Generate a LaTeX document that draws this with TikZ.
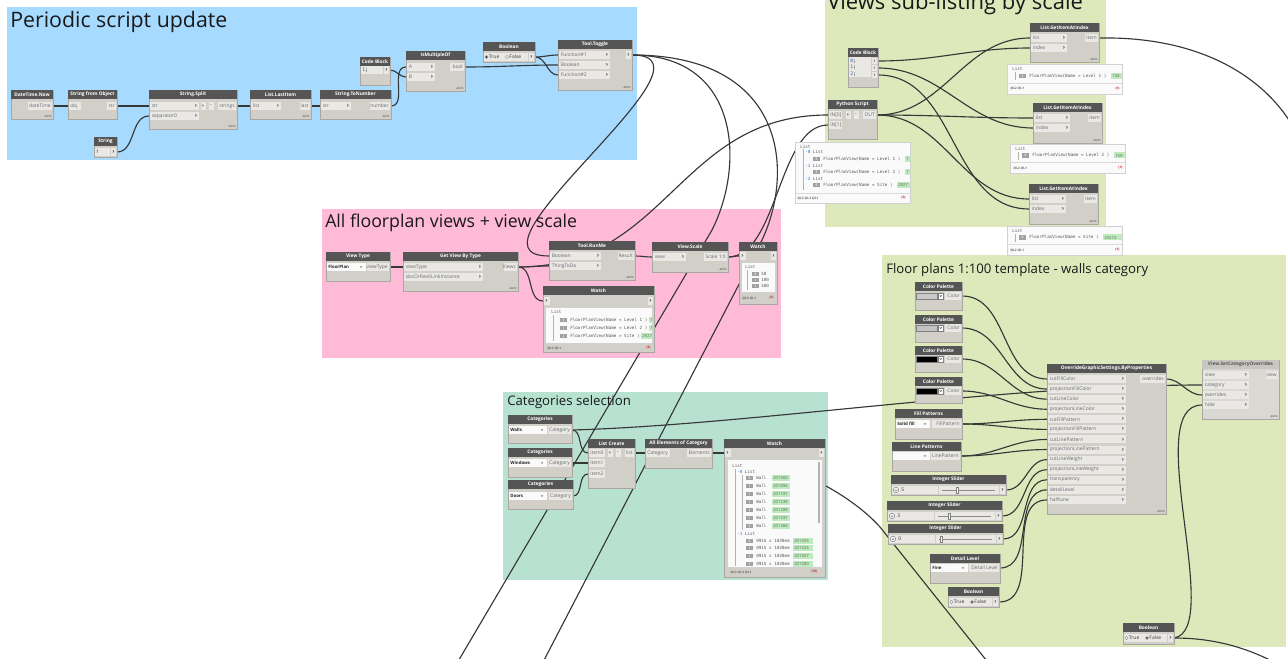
\documentclass[tikz,border=0pt]{standalone}
\usepackage{fontspec}
\setmainfont{Open Sans}
\newfontfamily\monof{DejaVu Sans Mono}
\pgfdeclarelayer{bg}
\pgfdeclarelayer{wl}
\pgfsetlayers{bg,wl,main}
\definecolor{blueg}{RGB}{166,219,255}
\definecolor{pinkg}{RGB}{255,186,216}
\definecolor{tealg}{RGB}{183,226,210}
\definecolor{greeng}{RGB}{222,233,187}
\definecolor{hdr}{RGB}{85,85,85}
\definecolor{lhdr}{RGB}{200,198,193}
\definecolor{bodyc}{RGB}{210,207,201}
\definecolor{lbodyc}{RGB}{218,216,211}
\definecolor{bodyedge}{RGB}{170,167,162}
\definecolor{portc}{RGB}{233,232,229}
\definecolor{ptxtc}{RGB}{105,105,105}
\definecolor{wirec}{RGB}{55,55,55}
\definecolor{valg}{RGB}{188,235,188}
\definecolor{idxg}{RGB}{160,160,160}
\definecolor{redt}{RGB}{200,40,40}
\definecolor{codeblue}{RGB}{40,110,210}
\definecolor{prevbg}{RGB}{250,250,250}
\tikzset{
  nbody/.style={fill=bodyc, draw=bodyedge, line width=0.3pt},
  nhead/.style={fill=hdr},
  pbox/.style={fill=portc},
  htxt/.style={text=white, font=\bfseries\fontsize{3.6}{4}\selectfont, inner sep=0},
  ptxt/.style={text=ptxtc, font=\fontsize{3.7}{4}\selectfont, inner sep=0},
  chev/.style={text=hdr, font=\bfseries\fontsize{4.6}{5}\selectfont, inner sep=0},
  autotxt/.style={text=black!60, font=\bfseries\fontsize{1.9}{2}\selectfont, inner sep=0, anchor=south east},
  wtxt/.style={text=black!65, font=\monof\fontsize{3.2}{3.5}\selectfont, inner sep=0, anchor=west},
  idxtxt/.style={text=white, font=\monof\fontsize{2.4}{2.6}\selectfont, inner sep=0},
  foottxt/.style={text=black!60, font=\bfseries\fontsize{2.4}{2.6}\selectfont, inner sep=0, anchor=west},
  codetxt/.style={text=black, font=\monof\fontsize{3.6}{4}\selectfont, inner sep=0, anchor=west},
  gtitle/.style={text=black!90, inner sep=0, anchor=base west},
  prev/.style={fill=prevbg, draw=black!18, line width=0.3pt},
  wire/.style={draw=wirec, line width=0.85pt},
  bez/.style={out=0, in=180},
}
% node frame: name, x1, y1, x2, y2, title
\newcommand{\DNode}[6]{%
  \path[nbody] (#2,#3) rectangle (#4,#5);
  \path[nhead] (#2,#3) rectangle (#4,#3+9);
  \node[htxt] (#1) at ({(#2+#4)/2},#3+4.6) {#6};}
\newcommand{\InP}[5]{%
  \path[pbox] (#2+0.6,#3-4) rectangle (#2+#4,#3+4);
  \node[ptxt,anchor=west] at (#2+2.5,#3) {#5};
  \node[chev] at (#2+#4-3,#3) {›};
  \coordinate (#1) at (#2,#3);}
\newcommand{\InQ}[5]{%
  \path[pbox] (#2+0.6,#3-4) rectangle (#2+#4,#3+4);
  \node[ptxt,anchor=west] at (#2+2,#3) {#5};
  \coordinate (#1) at (#2,#3);}
\newcommand{\OutP}[5]{%
  \path[pbox] (#2-#4,#3-4) rectangle (#2-0.6,#3+4);
  \node[ptxt,anchor=east] at (#2-2,#3) {#5};
  \coordinate (#1) at (#2,#3);}
\newcommand{\OutBtn}[3]{%
  \path[pbox] (#2-6.5,#3-3.6) rectangle (#2-0.6,#3+3.6);
  \node[chev] at (#2-3.5,#3) {›};
  \coordinate (#1) at (#2,#3);}
\newcommand{\InBtn}[3]{%
  \path[pbox] (#2+0.6,#3-3.6) rectangle (#2+6.5,#3+3.6);
  \node[chev] at (#2+3.5,#3) {›};
  \coordinate (#1) at (#2,#3);}
\newcommand{\Btn}[3]{%
  \path[pbox] (#1-2.5,#2-4) rectangle (#1+2.5,#2+4);
  \node[ptxt,text=black!80] at (#1,#2) {#3};}
\newcommand{\AutoTag}[2]{\node[autotxt] at (#1,#2) {AUTO};}
\newcommand{\DDown}[4]{%
  \path[fill=white!96!gray] (#1+0.6,#2-4) rectangle (#3,#2+4);
  \node[ptxt,text=black!85,anchor=west,font=\bfseries\fontsize{3.3}{4}\selectfont] at (#1+2,#2) {#4};
  \draw[ptxtc,line width=0.3pt] (#3-6,#2-0.8) -- (#3-5,#2+0.6) -- (#3-4,#2-0.8);}
\newcommand{\Radio}[4]{%
  \draw[fill=white,draw=gray,line width=0.25pt] (#1,#2) circle[radius=1.7];
  \ifnum#3=1 \fill[black] (#1,#2) circle[radius=0.8];\fi
  \node[ptxt,text=black!80,anchor=west] at (#1+2.2,#2) {#4};}
% Boolean: name x1 y1 x2 y2 row sel(1 true / 2 false)
\newcommand{\BoolN}[7]{%
  \DNode{#1}{#2}{#3}{#4}{#5}{Boolean}
  \path[pbox] (#2+0.6,#6-4) rectangle (#4-7.2,#6+4);
  \ifnum#7=1 \Radio{#2+3.5}{#6}{1}{True}\Radio{#2+24}{#6}{0}{False}%
  \else \Radio{#2+3.5}{#6}{0}{True}\Radio{#2+24}{#6}{1}{False}\fi
  \OutBtn{#1-o}{#4}{#6}}
% Color palette: name x1 y1 x2 y2 row colour
\newcommand{\CPal}[7]{%
  \DNode{#1}{#2}{#3}{#4}{#5}{Color Palette}
  \path[fill=#7,draw=gray,line width=0.2pt] (#2+1.2,#6-3.3) rectangle (#2+22,#6+3.3);
  \path[fill=white,draw=gray,line width=0.2pt] (#2+23,#6-3.3) rectangle (#2+28.5,#6+3.3);
  \draw[hdr,line width=0.35pt] (#2+24.7,#6-0.8) -- (#2+25.7,#6+0.7) -- (#2+26.7,#6-0.8);
  \OutP{#1-o}{#4}{#6}{17}{Color}}
% Categories: name x1 y1 x2 y2 row label
\newcommand{\CatN}[7]{%
  \DNode{#1}{#2}{#3}{#4}{#5}{Categories}
  \DDown{#2}{#6}{#2+39}{#7}
  \OutP{#1-o}{#4}{#6}{24}{Category}}
% Integer slider: name x1 y1 x2 y2 row value thumb
\newcommand{\ISlider}[8]{%
  \DNode{#1}{#2}{#3}{#4}{#5}{Integer Slider}
  \path[pbox] (#2+0.6,#6-4) rectangle (#2+47,#6+4);
  \draw[fill=white,draw=ptxtc,line width=0.3pt] (#2+5,#6) circle[radius=2.7];
  \draw[ptxtc,line width=0.35pt] (#2+3.8,#6-0.6) -- (#2+5,#6+0.8) -- (#2+6.2,#6-0.6);
  \node[ptxt,text=black!80,anchor=west] at (#2+10,#6) {#7};
  \path[pbox] (#2+48,#6-4) rectangle (#4-7.4,#6+4);
  \draw[black!45,line width=0.5pt] (#2+51,#6) -- (#4-11,#6);
  \draw[fill=white,draw=gray,line width=0.3pt] (#8-1.3,#6-3) rectangle (#8+1.3,#6+3);
  \OutBtn{#1-o}{#4}{#6}}
% watch helpers
\newcommand{\WI}[3]{\path[fill=idxg] (#1,#2-2.2) rectangle (#1+7,#2+2.2); \node[idxtxt] at (#1+3.5,#2) {#3};}
\newcommand{\WV}[4]{\path[fill=valg] (#1,#2-3) rectangle (#3,#2+3); \node[wtxt,text=black!60,font=\fontsize{3.2}{3.5}\selectfont] at (#1+1,#2) {#4};}
\newcommand{\WT}[3]{\node[wtxt] at (#1,#2) {#3};}
\newcommand{\WL}[3]{\node[wtxt] at (#1,#2) {\textcolor{codeblue}{-#3} List};}

\begin{document}
\begin{tikzpicture}[x=0.75pt,y=-0.75pt]
\useasboundingbox (0,0) rectangle (1288,659);
\begin{pgfonlayer}{bg}
\fill[white] (0,0) rectangle (1288,659);
\fill[blueg] (7,7) rectangle (637,160);
\fill[greeng] (825,-10) rectangle (1106,227);
\fill[pinkg] (322,209) rectangle (781,358);
\fill[tealg] (503,392) rectangle (828,580);
\fill[greeng] (882,255) rectangle (1286,647);
\end{pgfonlayer}
\node[gtitle,font=\fontsize{16}{18}\selectfont] (gt1) at (10,28) {Periodic script update};
\node[gtitle,font=\fontsize{16.5}{18}\selectfont] (gt2) at (827,10) {Views sub-listing by scale};
\node[gtitle,font=\fontsize{13.3}{15}\selectfont] (gt3) at (325,228) {All floorplan views + view scale};
\node[gtitle,font=\fontsize{9.9}{12}\selectfont] (gt4) at (507,405) {Categories selection};
\node[gtitle,font=\fontsize{9.9}{12}\selectfont] (gt5) at (886,273) {Floor plans 1:100 template - walls category};

% ===== Periodic script update =====
\DNode{dtn}{11}{90}{53}{119}{DateTime.Now}
\OutP{dtn-o}{53}{106}{25}{dateTime}
\AutoTag{52}{118}
\DNode{sfo}{68}{90}{117}{119}{String from Object}
\InQ{sfo-i}{68}{106}{13}{obj}
\OutP{sfo-o}{117}{106}{10}{str}
\DNode{ssp}{149}{90}{237}{129}{String.Split}
\InP{ssp-i1}{149}{106}{50}{str}
\InP{ssp-i2}{149}{116}{50}{separator0}
\Btn{203}{106}{+}\Btn{211}{106}{-}
\OutP{ssp-o}{237}{106}{19}{strings}
\AutoTag{236}{128}
\DNode{strn}{94}{137}{117}{157}{String}
\path[pbox] (94.6,148.4) rectangle (109.8,155.6);
\node[ptxt,text=black!80,anchor=west] (strv) at (96,152) {1};
\OutBtn{strn-o}{117}{152}
\DNode{lli}{250}{90}{311}{119}{List.LastItem}
\InP{lli-i}{250}{106}{31}{list}
\OutP{lli-o}{311}{106}{11}{last}
\AutoTag{310}{118}
\DNode{stn}{320}{90}{391}{119}{String.ToNumber}
\InP{stn-i}{320}{106}{31}{str}
\OutP{stn-o}{391}{106}{21}{number}
\AutoTag{390}{118}
\DNode{cb1}{360}{57}{390}{85}{Code Block}
\path[pbox] (360.6,66.4) rectangle (382.6,73.6);
\node[codetxt] (cb1t) at (362,70) {\textcolor{codeblue}{1};};
\OutBtn{cb1-o}{390}{70}
\DNode{imo}{406}{51}{465}{91}{IsMultipleOf}
\InP{imo-a}{406}{67}{29}{A}
\InP{imo-b}{406}{77}{29}{B}
\OutP{imo-o}{465}{67}{15}{bool}
\AutoTag{464}{90}
\BoolN{bo1}{483}{42}{535}{62}{57}{1}
\DNode{tt}{558}{40}{632}{90}{Tool.Toggle}
\InP{tt-i1}{558}{55}{52}{Function\#1}
\InP{tt-i2}{558}{65}{52}{Boolean}
\InP{tt-i3}{558}{75}{52}{Function\#2}
\OutBtn{tt-o}{632}{55}
\AutoTag{631}{89}

% ===== All floorplan views =====
\DNode{vt}{326}{252}{390}{281}{View Type}
\DDown{326}{267}{366}{FloorPlan}
\OutP{vt-o}{390}{267}{23}{viewType}
\DNode{gvt}{403}{252}{518}{291}{Get View By Type}
\InP{gvt-i1}{403}{267}{80}{viewType}
\InP{gvt-i2}{403}{277}{80}{docOrRevitLinkInstance}
\OutP{gvt-o}{518}{267}{14}{Views}
\AutoTag{517}{290}
\DNode{trm}{549}{241}{635}{280}{Tool.RunMe}
\InP{trm-i1}{549}{256}{52}{Boolean}
\InP{trm-i2}{549}{266}{52}{ThingToDo}
\OutP{trm-o}{635}{256}{17}{Result}
\AutoTag{634}{279}
\DNode{vs}{652}{242}{728}{272}{View.Scale}
\InP{vs-i}{652}{257}{34}{view}
\OutP{vs-o}{728}{257}{24}{Scale 1:X}
\AutoTag{727}{271}
\DNode{wa1}{739}{242}{777}{304}{Watch}
\InBtn{wa1-i}{739}{256}
\OutBtn{wa1-o}{777}{256}
\path[prev] (741,262) rectangle (775,292);
\WT{745}{267}{List}
\draw[black!30,line width=0.3pt] (747,270) -- (747,290);
\WI{752}{274}{0}\WT{761}{274}{50}
\WI{752}{280}{1}\WT{761}{280}{100}
\WI{752}{286}{2}\WT{761}{286}{500}
\node[foottxt] at (742,298) {@L2 @L1};
\node[foottxt,text=redt] at (769,298) {\{3\}};
\DNode{wa2}{543}{286}{654}{352}{Watch}
\InBtn{wa2-i}{543}{301}
\OutBtn{wa2-o}{654}{301}
\path[prev] (545,307) rectangle (652,343);
\begin{scope}
\clip (545,307) rectangle (652,343);
\WT{551}{312}{List}
\draw[black!30,line width=0.3pt] (553,315) -- (553,341);
\WI{560}{320}{0}\WT{570}{320}{FloorPlanView(Name = Level 1 )}\WV{649}{320}{665}{1}
\WI{560}{328}{1}\WT{570}{328}{FloorPlanView(Name = Level 2 )}\WV{649}{328}{665}{1}
\WI{560}{336}{2}\WT{570}{336}{FloorPlanView(Name = Site )}\WV{641}{336}{665}{2927}
\end{scope}
\node[foottxt] at (547,348) {@L2 @L1};
\node[foottxt,text=redt] at (646,348) {\{3\}};

% ===== Categories selection =====
\CatN{caw}{508}{415}{572}{443}{430}{Walls}
\CatN{cawi}{508}{448}{572}{477}{463}{Windows}
\CatN{cad}{508}{480}{573}{509}{496}{Doors}
\DNode{lc}{588}{439}{635}{488}{List Create}
\InQ{lc-i0}{588}{453}{17}{item0}
\InQ{lc-i1}{588}{463}{17}{item1}
\InQ{lc-i2}{588}{474}{17}{item2}
\Btn{610}{453}{+}\Btn{618}{453}{-}
\OutP{lc-o}{635}{453}{10}{list}
\DNode{aec}{645}{439}{712}{468}{All Elements of Category}
\InQ{aec-i}{645}{453}{25}{Category}
\OutP{aec-o}{712}{453}{25}{Elements}
\DNode{wa3}{724}{439}{825}{577}{Watch}
\InBtn{wa3-i}{724}{453}
\OutBtn{wa3-o}{825}{453}
\path[prev] (727,459) rectangle (822,567);
\begin{scope}
\clip (727,459) rectangle (822,567);
\WT{732}{466}{List}
\draw[black!30,line width=0.3pt] (735,469) -- (735,566);
\draw[black!30,line width=0.3pt] (742,475) -- (742,530);
\WL{737}{472}{0}
\foreach \yy/\ii/\vv in {478/0/201060,486/1/201096,494/2/201181,502/3/201238,510/4/201288,518/5/201337,526/6/201384}
  {\WI{746}{\yy}{\ii}\WT{756}{\yy}{Wall}\WV{772}{\yy}{790}{\vv}}
\WL{737}{534}{1}
\foreach \yy/\ii/\vv in {541/0/201503,548/1/201524,556/2/201567,564/3/201580}
  {\WI{746}{\yy}{\ii}\WT{756}{\yy}{0915 x 1830mm}\WV{793}{\yy}{813}{\vv}}
\path[fill=black!30] (817.5,462) rectangle (819.5,523);
\end{scope}
\node[foottxt] at (730,572) {@L3 @L2 @L1};
\node[foottxt,text=redt] at (811,572) {\{78\}};

% ===== Views sub-listing by scale =====
\DNode{cb2}{848}{48}{878}{87}{Code Block}
\path[pbox] (848.6,57.5) rectangle (870.6,77.5);
\node[codetxt] (cb2a) at (850,61) {\textcolor{codeblue}{0};};
\node[codetxt] (cb2b) at (850,67.5) {\textcolor{codeblue}{1};};
\node[codetxt] (cb2c) at (850,74) {\textcolor{codeblue}{2};};
\path[pbox] (871.5,58) rectangle (877.4,64);\node[chev,font=\bfseries\fontsize{3.6}{4}\selectfont] at (874.5,61) {›};\coordinate (cb2-o0) at (878,61);
\path[pbox] (871.5,65) rectangle (877.4,71);\node[chev,font=\bfseries\fontsize{3.6}{4}\selectfont] at (874.5,68) {›};\coordinate (cb2-o1) at (878,68);
\path[pbox] (871.5,72) rectangle (877.4,78);\node[chev,font=\bfseries\fontsize{3.6}{4}\selectfont] at (874.5,75) {›};\coordinate (cb2-o2) at (878,75);
\DNode{ps}{828}{100}{877}{139}{Python Script}
\InQ{ps-i1}{828}{115}{14}{IN[0]}
\InQ{ps-i2}{828}{125}{14}{IN[1]}
\Btn{848}{115}{+}\Btn{856}{115}{-}
\OutP{ps-o}{877}{115}{14}{OUT}
\path[prev] (795,142) rectangle (910,203);
\begin{scope}
\clip (795,142) rectangle (910,192);
\WT{800}{146.5}{List}
\draw[black!30,line width=0.3pt] (803,149) -- (803,190);
\WL{805}{152}{0}
\WI{813}{159}{0}\WT{823}{159}{FloorPlanView(Name = Level 1 )}\WV{905}{159}{915}{1}
\WL{805}{165.5}{1}
\WI{813}{172}{0}\WT{823}{172}{FloorPlanView(Name = Level 2 )}\WV{905}{172}{915}{1}
\WL{805}{178.5}{2}
\WI{813}{185}{0}\WT{823}{185}{FloorPlanView(Name = Site )}\WV{897}{185}{915}{2927}
\end{scope}
\draw[black!15,line width=0.3pt] (795,193) -- (910,193);
\node[foottxt] at (797,198) {@L3 @L2 @L1};
\node[foottxt,text=redt] at (901,198) {\{3\}};
% GetItemAtIndex x3
\DNode{g1}{1030}{23}{1099}{62}{List.GetItemAtIndex}
\InP{g1-i1}{1030}{38}{37}{list}
\InP{g1-i2}{1030}{48}{37}{index}
\OutP{g1-o}{1099}{38}{14}{item}
\AutoTag{1098}{61}
\path[prev] (1007,64) rectangle (1122,94);
\WT{1012}{69}{List}
\draw[black!30,line width=0.3pt] (1015,72) -- (1015,80);
\WI{1019}{76}{0}\WT{1029}{76}{FloorPlanView(Name = Level 1 )}\WV{1111}{76}{1121.5}{130}
\draw[black!15,line width=0.3pt] (1007,83) -- (1122,83);
\node[foottxt] at (1010,88.5) {@L2 @L1};
\node[foottxt,text=redt] at (1115,88.5) {\{1\}};
\DNode{g2}{1033}{103}{1102}{143}{List.GetItemAtIndex}
\InP{g2-i1}{1033}{118}{37}{list}
\InP{g2-i2}{1033}{128}{37}{index}
\OutP{g2-o}{1102}{118}{14}{item}
\AutoTag{1101}{142}
\path[prev] (1010,144) rectangle (1125,173);
\WT{1015}{149}{List}
\draw[black!30,line width=0.3pt] (1018,152) -- (1018,160);
\WI{1022}{155.5}{0}\WT{1032}{155.5}{FloorPlanView(Name = Level 2 )}\WV{1114}{155.5}{1124.5}{159}
\draw[black!15,line width=0.3pt] (1010,162) -- (1125,162);
\node[foottxt] at (1013,168) {@L2 @L1};
\node[foottxt,text=redt] at (1118,168) {\{1\}};
\DNode{g3}{1029}{184}{1098}{224}{List.GetItemAtIndex}
\InP{g3-i1}{1029}{199}{37}{list}
\InP{g3-i2}{1029}{209}{37}{index}
\OutP{g3-o}{1098}{199}{14}{item}
\AutoTag{1097}{223}
\path[prev] (1007,226) rectangle (1122,255);
\WT{1012}{231}{List}
\draw[black!30,line width=0.3pt] (1015,234) -- (1015,242);
\WI{1019}{237.5}{0}\WT{1029}{237.5}{FloorPlanView(Name = Site )}\WV{1103}{237.5}{1121.5}{29273}
\draw[black!15,line width=0.3pt] (1007,244) -- (1122,244);
\node[foottxt] at (1010,250) {@L2 @L1};
\node[foottxt,text=redt] at (1115,250) {\{1\}};

% ===== Floor plans template =====
\CPal{cp1}{915}{282}{962}{310}{296}{black!21}
\CPal{cp2}{915}{315}{962}{342}{328}{black!24}
\CPal{cp3}{915}{346}{962}{372}{359}{black}
\CPal{cp4}{915}{377}{962}{403}{391}{black}
\DNode{fp}{895}{409}{962}{439}{Fill Patterns}
\DDown{895}{424}{930}{Solid fill}
\OutP{fp-o}{962}{424}{30}{FillPattern}
\DNode{lp}{892}{442}{961}{471}{Line Patterns}
\DDown{892}{456}{930}{}
\OutP{lp-o}{961}{456}{30}{LinePattern}
\ISlider{is1}{891}{475}{1006}{495}{490}{5}{957}
\ISlider{is2}{887}{501}{1002}{521}{516}{3}{949}
\ISlider{is3}{888}{524}{1003}{544}{539}{0}{941}
\DNode{dl}{930}{554}{1000}{583}{Detail Level}
\DDown{930}{568}{968}{Fine}
\OutP{dl-o}{1000}{568}{31}{Detail Level}
\BoolN{bl2}{948}{587}{999}{607}{602}{2}
\DNode{ogs}{1047}{364}{1166}{514}{OverrideGraphicSettings.ByProperties}
\foreach \k/\lab in {1/cutFillColor,2/projectionFillColor,3/cutLineColor,4/projectionLineColor,5/cutFillPattern,6/projectionFillPattern,7/cutLinePattern,8/projectionLinePattern,9/cutLineWeight,10/projectionLineWeight,11/transparency,12/detailLevel,13/halftone}
  {\InP{ogs-i\k}{1047}{368.9+10.08*\k}{79}{\lab}}
\OutP{ogs-o}{1166}{379}{26}{overrides}
\AutoTag{1165}{513}
\path[nbody,fill=lbodyc] (1202,360) rectangle (1279,419);
\path[fill=lhdr] (1202,360) rectangle (1279,369);
\node[htxt,text=hdr] (vsco) at (1240.5,364.6) {View.SetCategoryOverrides};
\InP{vsco-i1}{1202}{375}{47}{view}
\InP{vsco-i2}{1202}{385}{47}{category}
\InP{vsco-i3}{1202}{395}{47}{overrides}
\InP{vsco-i4}{1202}{405}{47}{hide}
\OutP{vsco-o}{1279}{375}{13}{view}
\AutoTag{1278}{418}
\BoolN{bl3}{1123}{623}{1174}{644}{638}{2}

% ===== connectors =====
\coordinate (jA) at (712,230);
\coordinate (offA) at (400,760);
\coordinate (jB) at (762,240);
\coordinate (offB) at (500,745);
\coordinate (jC) at (880,527);
\coordinate (offC) at (1010,690);
\coordinate (offD) at (1300,140);
\coordinate (offE) at (1285,668);
\begin{pgfonlayer}{wl}
\draw[wire] (dtn-o) -- (sfo-i);
\draw[wire] (sfo-o) -- (ssp-i1);
\draw[wire] (strn-o) to[bez] (ssp-i2);
\draw[wire] (ssp-o) -- (lli-i);
\draw[wire] (lli-o) -- (stn-i);
\draw[wire] (stn-o) to[bez] (imo-a);
\draw[wire] (cb1-o) to[bez] (imo-b);
\draw[wire] (imo-o) to[bez] (tt-i2);
\draw[wire] (bo1-o) to[bez] (tt-i1);
\draw[wire] (bo1-o) to[bez] (tt-i3);
\draw[wire] (tt-o) .. controls (732,55) and (449,256) .. (trm-i1);
\draw[wire] (tt-o) .. controls (740,55) and (745,165) .. (jA) -- (offA);
\draw[wire] (tt-o) .. controls (785,55) and (795,170) .. (jB) -- (offB);
\draw[wire] (vt-o) -- (gvt-i1);
\draw[wire] (gvt-o) to[bez] (trm-i2);
\draw[wire] (gvt-o) to[bez] (wa2-i);
\draw[wire] (gvt-o) .. controls (668,267) and (678,115) .. (ps-i1);
\draw[wire] (trm-o) to[bez] (vs-i);
\draw[wire] (vs-o) to[bez] (wa1-i);
\draw[wire] (vs-o) .. controls (778,257) and (778,125) .. (ps-i2);
\draw[wire] (ps-o) to[bez] (g1-i1);
\draw[wire] (ps-o) to[bez] (g2-i1);
\draw[wire] (ps-o) to[bez] (g3-i1);
\draw[wire] (cb2-o0) to[bez] (g1-i2);
\draw[wire] (cb2-o1) to[bez] (g2-i2);
\draw[wire] (cb2-o2) to[bez] (g3-i2);
\draw[wire] (g1-o) .. controls (1210,36) and (1275,85) .. (offD);
\draw[wire] (caw-o) to[bez] (lc-i0);
\draw[wire] (cawi-o) to[bez] (lc-i1);
\draw[wire] (cad-o) to[bez] (lc-i2);
\draw[wire] (lc-o) -- (aec-i);
\draw[wire] (aec-o) -- (wa3-i);
\draw[wire] (aec-o) .. controls (770,453) and (845,488) .. (jC) -- (offC);
\draw[wire] (caw-o) .. controls (750,425) and (1000,385) .. (vsco-i2);
\draw[wire] (cp1-o) to[bez] (ogs-i1);
\draw[wire] (cp2-o) to[bez] (ogs-i2);
\draw[wire] (cp3-o) to[bez] (ogs-i3);
\draw[wire] (cp4-o) to[bez] (ogs-i4);
\draw[wire] (fp-o) to[bez] (ogs-i5);
\draw[wire] (fp-o) to[bez] (ogs-i6);
\draw[wire] (lp-o) to[bez] (ogs-i7);
\draw[wire] (lp-o) to[bez] (ogs-i8);
\draw[wire] (is1-o) to[bez] (ogs-i9);
\draw[wire] (is2-o) to[bez] (ogs-i10);
\draw[wire] (is3-o) to[bez] (ogs-i11);
\draw[wire] (dl-o) to[bez] (ogs-i12);
\draw[wire] (bl2-o) to[bez] (ogs-i13);
\draw[wire] (ogs-o) to[bez] (vsco-i3);
\draw[wire] (bl3-o) .. controls (1225,630) and (1140,405) .. (vsco-i4);
\draw[wire] (bl3-o) .. controls (1215,638) and (1250,648) .. (offE);
\end{pgfonlayer}
\end{tikzpicture}
\end{document}
